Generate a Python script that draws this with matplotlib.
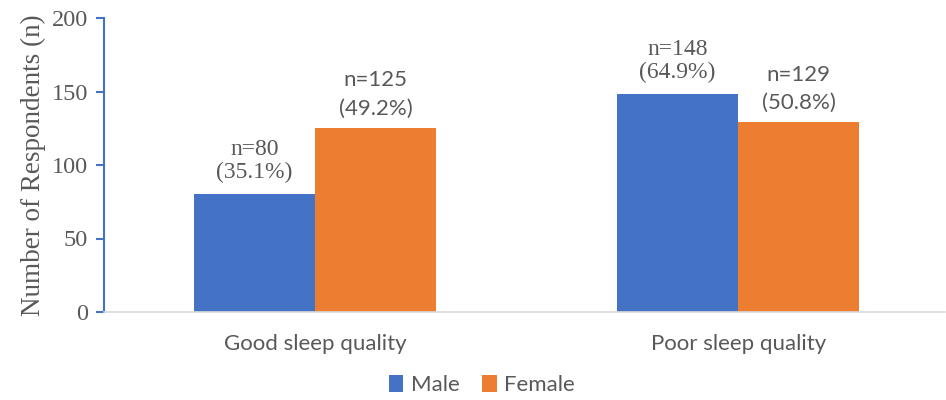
import matplotlib
matplotlib.use("Agg")
import matplotlib.pyplot as plt
import numpy as np

categories = ["Good sleep quality", "Poor sleep quality"]
series_names = ["Male", "Female"]
male_counts = [80, 148]
female_counts = [125, 129]
male_pct = [35.1, 64.9]
female_pct = [49.2, 50.8]
y_ticks = [0, 50, 100, 150, 200]

BLUE = "#4472C4"
ORANGE = "#ED7D31"
GREY = "#595959"
SERIF = "Liberation Serif"
SANS = "Lato"

fig = plt.figure(figsize=(9.46, 4.0), dpi=100)
ax = fig.add_axes([103.5 / 946, 88 / 400, 842 / 946, 294 / 400])

x = np.arange(len(categories))
w = 0.286
bars_m = ax.bar(x - w / 2, male_counts, w, color=BLUE, label=series_names[0])
bars_f = ax.bar(x + w / 2, female_counts, w, color=ORANGE, label=series_names[1])

for xi, n, p in zip(x - w / 2, male_counts, male_pct):
    ax.annotate(f"n={n}\n({p}%)", (xi, n), xytext=(0, 8), textcoords="offset points",
                ha="center", va="bottom", fontsize=17, family=SERIF, color=GREY,
                linespacing=1.15)
for xi, n, p in zip(x + w / 2, female_counts, female_pct):
    ax.annotate(f"n={n}\n({p}%)", (xi, n), xytext=(0, 6.5), textcoords="offset points",
                ha="center", va="bottom", fontsize=16, family=SANS, color=GREY,
                linespacing=1.55)

ax.set_xlim(-0.5, 1.49)
ax.set_ylim(0, 200)
ax.set_yticks(y_ticks)
ax.set_yticklabels([str(t) for t in y_ticks], family=SERIF, fontsize=17.5, color=GREY)
ax.set_xticks(x)
ax.set_xticklabels(categories, family=SANS, fontsize=16, color=GREY)
ax.tick_params(axis="x", length=0, pad=16)
ax.tick_params(axis="y", length=6, width=1.5, color=BLUE, direction="out", pad=5)
ax.set_ylabel("Number of Respondents (n)", family=SERIF, fontsize=19.5, color=GREY, labelpad=4)

for s in ["top", "right"]:
    ax.spines[s].set_visible(False)
ax.spines["left"].set_color(BLUE)
ax.spines["left"].set_linewidth(1.5)
ax.spines["bottom"].set_color("#D9D9D9")
ax.spines["bottom"].set_linewidth(1.2)

leg = fig.legend(handles=[bars_m, bars_f], labels=series_names, loc="center",
                 bbox_to_anchor=(482 / 946, 1 - 385 / 400), ncol=2, frameon=False,
                 prop={"family": SANS, "size": 16}, handlelength=0.65, handleheight=0.85,
                 handletextpad=0.35, columnspacing=1.0)
for t in leg.get_texts():
    t.set_color(GREY)

fig.savefig("out.png", dpi=100)
